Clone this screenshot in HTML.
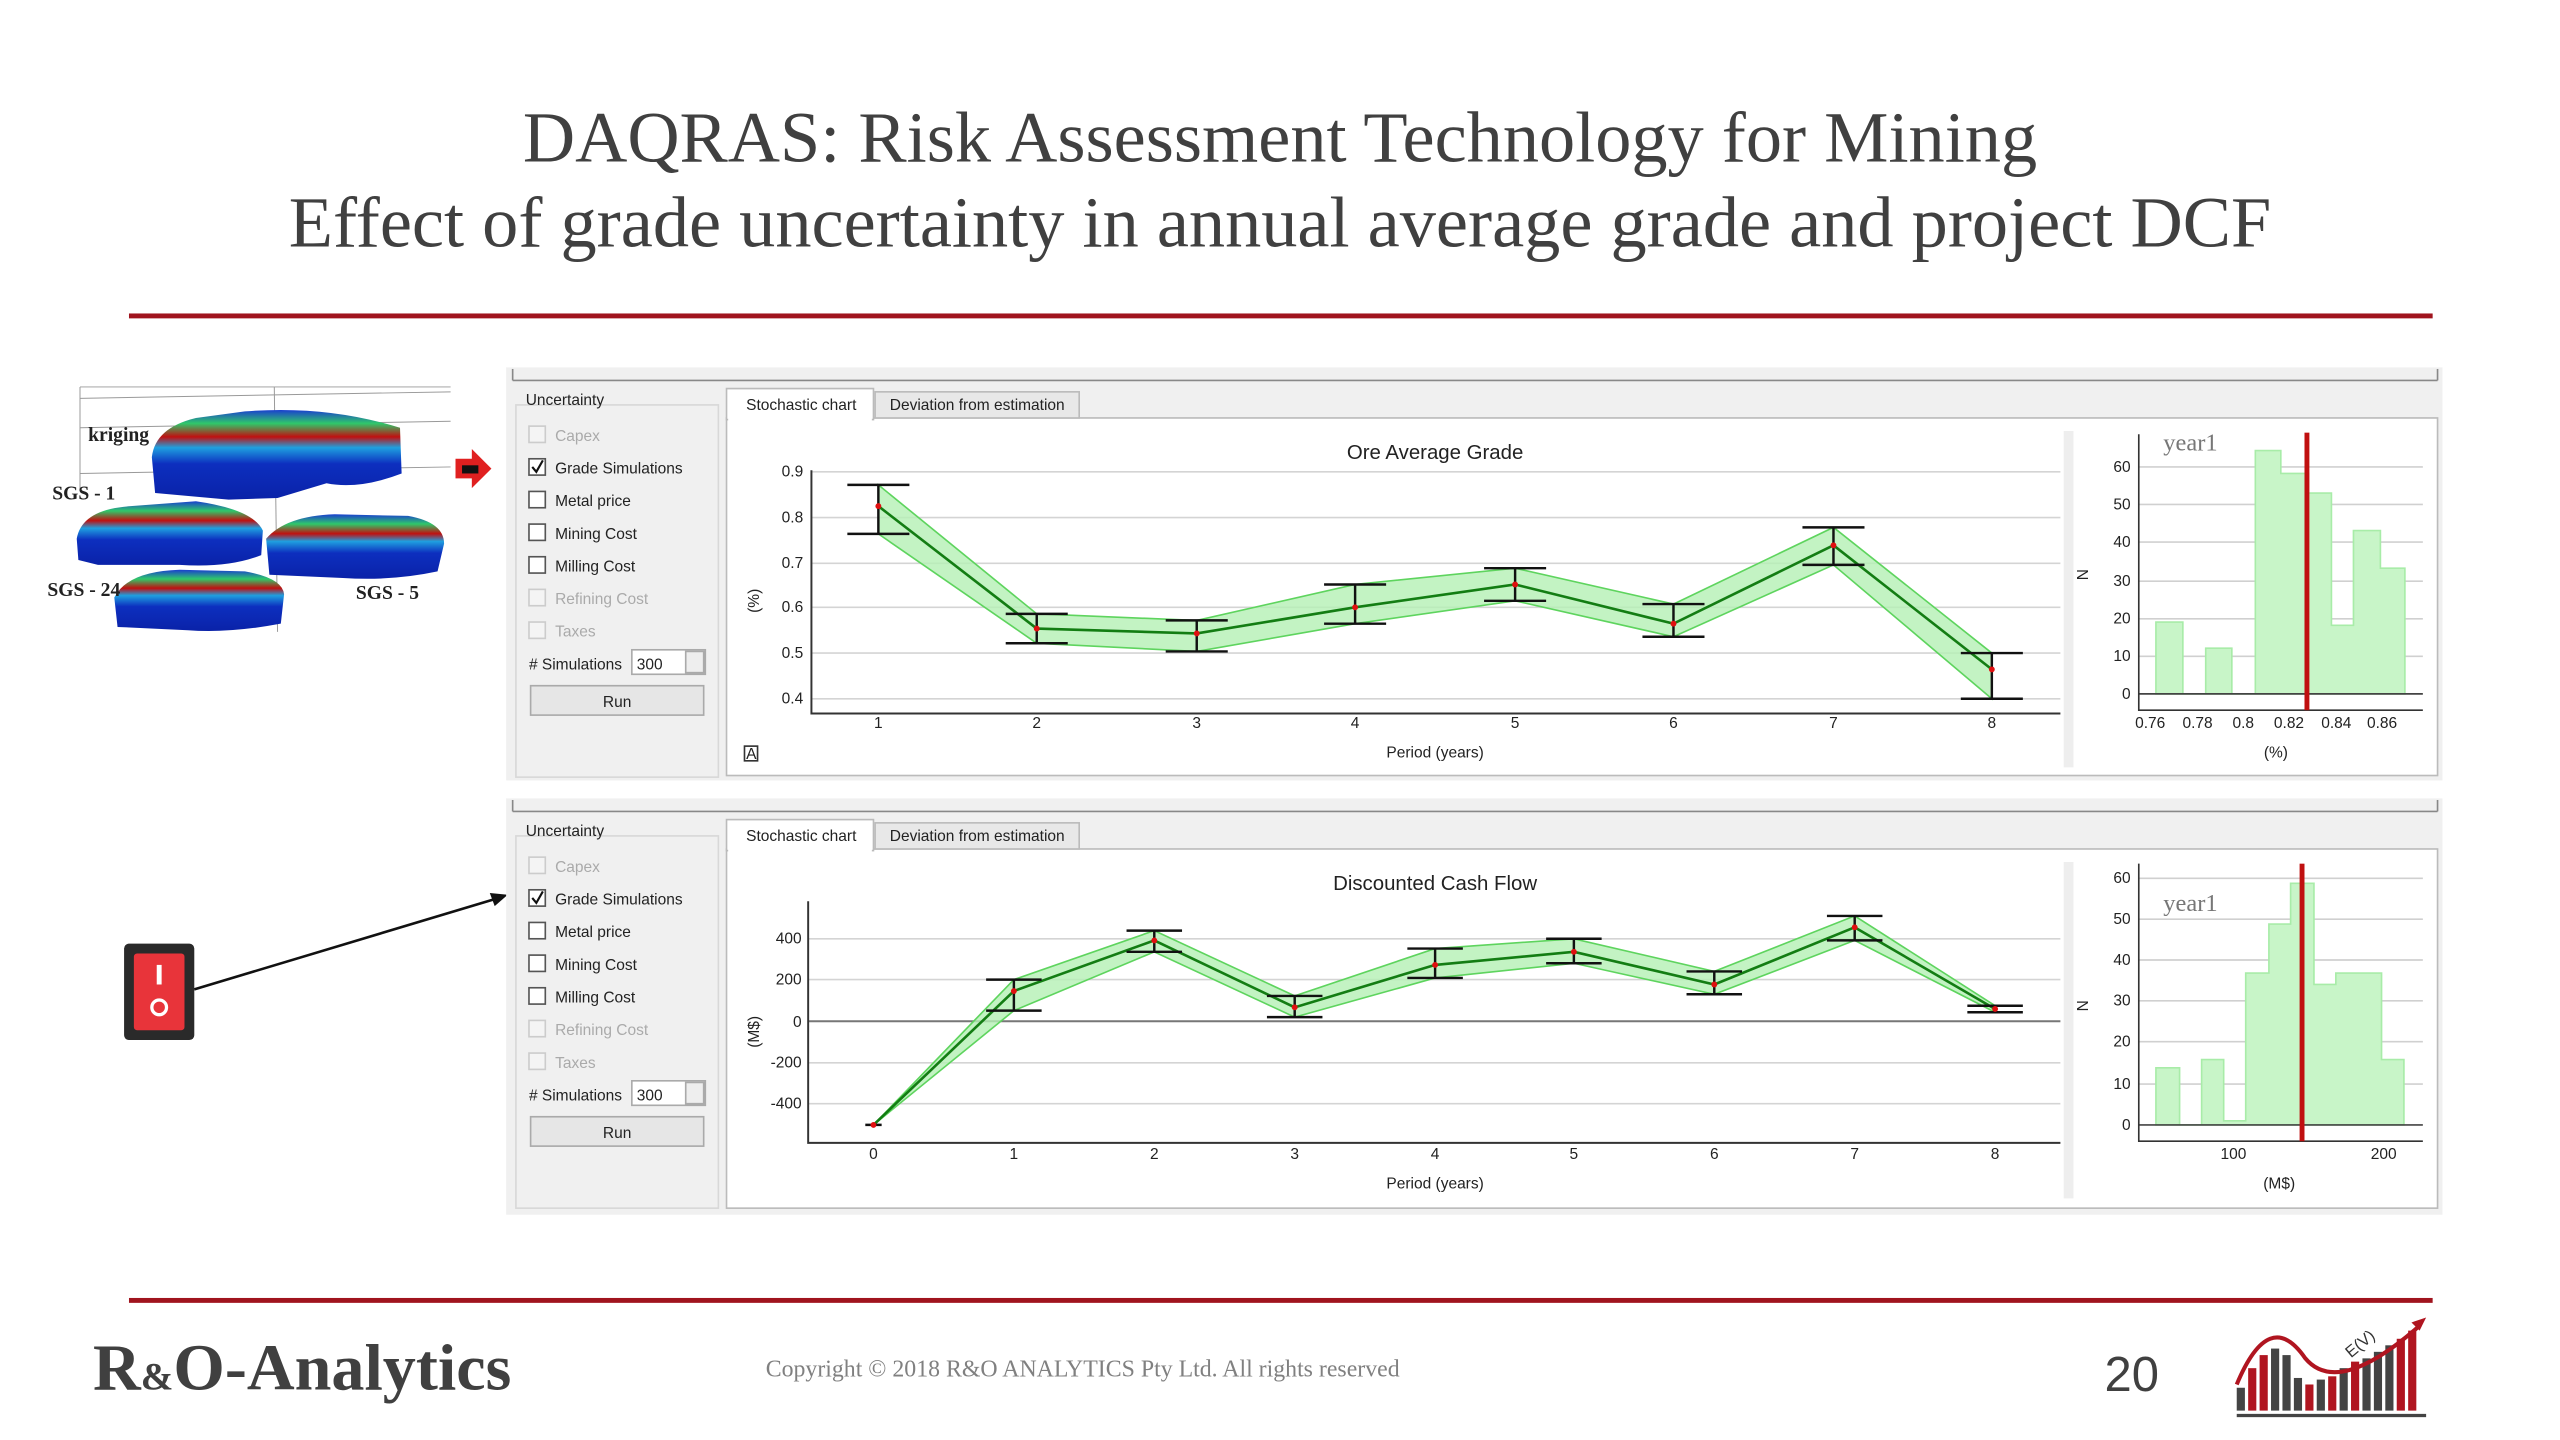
<!DOCTYPE html>
<html><head><meta charset="utf-8"><style>
html,body{margin:0;padding:0;background:#fff;width:2560px;height:1440px;overflow:hidden}
svg{display:block}
.ui{font-family:"Liberation Sans",sans-serif;font-size:9.5px;fill:#222}
.dis{fill:#aaa}
</style></head><body>
<svg width="2560" height="1440" viewBox="0 0 1568 882" preserveAspectRatio="none" xmlns="http://www.w3.org/2000/svg">
<rect width="1568" height="882" fill="#fff"/>
<!-- titles -->
<g font-family="Liberation Serif,serif" fill="#404040" text-anchor="middle" font-size="44.3">
<text x="784" y="99">DAQRAS: Risk Assessment Technology for Mining</text>
<text x="784" y="151">Effect of grade uncertainty in annual average grade and project DCF</text>
</g>
<rect x="79" y="192" width="1411" height="3" fill="#a0141e"/>
<rect x="79" y="795" width="1411" height="3" fill="#a0141e"/>
<!-- footer -->
<text x="57" y="851" font-family="Liberation Serif,serif" font-size="40.5" font-weight="bold" fill="#404040">R<tspan font-size="24">&amp;</tspan>O-Analytics</text>
<text x="469" y="843" font-family="Liberation Serif,serif" font-size="14.6" fill="#808080">Copyright © 2018 R&amp;O ANALYTICS Pty Ltd. All rights reserved</text>
<text x="1289" y="852" font-family="Liberation Sans,sans-serif" font-size="30" fill="#404040">20</text>
<g>
<rect x="1370" y="850" width="5" height="14" fill="#444"/><rect x="1377" y="838" width="5" height="26" fill="#b01520"/>
<rect x="1384" y="830" width="5" height="34" fill="#b01520"/><rect x="1391" y="826" width="5" height="38" fill="#444"/>
<rect x="1398" y="830" width="5" height="34" fill="#444"/><rect x="1405" y="844" width="5" height="20" fill="#444"/>
<rect x="1412" y="848" width="5" height="16" fill="#b01520"/><rect x="1419" y="845" width="5" height="19" fill="#444"/>
<rect x="1426" y="843" width="5" height="21" fill="#b01520"/><rect x="1433" y="838" width="5" height="26" fill="#444"/>
<rect x="1440" y="834" width="5" height="30" fill="#b01520"/><rect x="1447" y="832" width="5" height="32" fill="#444"/>
<rect x="1454" y="828" width="5" height="36" fill="#444"/><rect x="1461" y="824" width="5" height="40" fill="#444"/>
<rect x="1468" y="820" width="5" height="44" fill="#b01520"/><rect x="1475" y="815" width="5" height="49" fill="#b01520"/>
<rect x="1370" y="866" width="116" height="2" fill="#444"/>
<path d="M1370 848 Q1390 800 1412 832 Q1432 856 1482 812" fill="none" stroke="#b01520" stroke-width="2.5"/>
<path d="M1486 807 l-9 3 l5 5z" fill="#b01520"/>
<text x="1440" y="832" font-family="Liberation Sans,sans-serif" font-size="10" fill="#333" transform="rotate(-40 1440 832)">E(V)</text>
</g>
<!-- block models -->
<g stroke="#999" stroke-width="0.6" fill="none">
<line x1="49" y1="237" x2="276" y2="237"/><line x1="49" y1="244" x2="276" y2="240"/>
<line x1="49" y1="262" x2="276" y2="258"/><line x1="49" y1="290" x2="276" y2="286"/>
<line x1="49" y1="237" x2="49" y2="300"/><line x1="168" y1="237" x2="170" y2="387"/>
</g>
<defs>
<linearGradient id="bl" x1="0" y1="0" x2="0" y2="1">
<stop offset="0" stop-color="#1a3fd0"/><stop offset="0.15" stop-color="#2fc86a"/><stop offset="0.3" stop-color="#c01010"/><stop offset="0.42" stop-color="#1fa0e0"/><stop offset="0.6" stop-color="#0d2fbf"/><stop offset="1" stop-color="#0a22a8"/>
</linearGradient>
</defs>
<path d="M93 280 Q95 262 120 256 L150 252 Q200 248 245 262 L246 290 Q220 300 200 296 L170 305 L140 306 L95 302Z" fill="url(#bl)"/>
<path d="M47 330 Q50 312 80 310 L120 307 Q155 312 161 325 L160 340 Q140 348 110 346 L60 346 L48 343Z" fill="url(#bl)"/>
<path d="M163 330 Q175 316 205 315 L250 316 Q272 320 272 333 L268 350 Q240 356 210 354 L165 352Z" fill="url(#bl)"/>
<path d="M70 366 Q78 350 110 349 L150 350 Q173 354 174 364 L172 382 Q140 388 115 386 L72 384Z" fill="url(#bl)"/>
<g font-family="Liberation Serif,serif" font-weight="bold" font-size="12" fill="#222">
<text x="54" y="270">kriging</text><text x="32" y="306">SGS - 1</text><text x="29" y="365">SGS - 24</text><text x="218" y="367">SGS - 5</text>
</g>
<path d="M279 281 h10 v-6 l12 12 l-12 12 v-6 h-10z" fill="#e02020"/>
<rect x="283" y="285" width="10" height="5" fill="#111"/>
<!-- switch -->
<rect x="76" y="578" width="43" height="59" rx="3" fill="#2a2a2a"/>
<rect x="82" y="584" width="31" height="47" rx="2" fill="#e8343a"/>
<rect x="96" y="591" width="3" height="12" fill="#fff"/>
<circle cx="97.5" cy="617" r="4.5" fill="none" stroke="#fff" stroke-width="2"/>
<line x1="119" y1="606" x2="302" y2="551" stroke="#111" stroke-width="1.6"/>
<path d="M311 548 l-11 -1 l3 8z" fill="#111"/>

<!-- top panel -->
<rect x="310" y="225" width="1186" height="253" fill="#f0f0f0"/>
<line x1="314" y1="233" x2="1493" y2="233" stroke="#888" stroke-width="1"/>
<line x1="314" y1="226" x2="314" y2="233" stroke="#888"/><line x1="1493" y1="226" x2="1493" y2="233" stroke="#888"/>
<rect x="316" y="248" width="124" height="228" fill="none" stroke="#d8d8d8"/>
<text class="ui" x="322" y="248" font-size="9">Uncertainty</text>
<g class="ui">
<rect x="324" y="261" width="10" height="10" fill="#f4f4f4" stroke="#ccc"/><text class="dis" x="340" y="270">Capex</text>
<rect x="324" y="281" width="10" height="10" fill="#fff" stroke="#555"/><path d="M326 286 l2.5 3 l4 -7" stroke="#111" fill="none" stroke-width="1.3"/><text x="340" y="290">Grade Simulations</text>
<rect x="324" y="301" width="10" height="10" fill="#fff" stroke="#555"/><text x="340" y="310">Metal price</text>
<rect x="324" y="321" width="10" height="10" fill="#fff" stroke="#555"/><text x="340" y="330">Mining Cost</text>
<rect x="324" y="341" width="10" height="10" fill="#fff" stroke="#555"/><text x="340" y="350">Milling Cost</text>
<rect x="324" y="361" width="10" height="10" fill="#f4f4f4" stroke="#ccc"/><text class="dis" x="340" y="370">Refining Cost</text>
<rect x="324" y="381" width="10" height="10" fill="#f4f4f4" stroke="#ccc"/><text class="dis" x="340" y="390">Taxes</text>
<text x="324" y="410"># Simulations</text>
<rect x="387" y="398" width="45" height="15" fill="#fff" stroke="#aaa"/><text x="390" y="410">300</text>
<rect x="420" y="399" width="11" height="13" fill="#eee" stroke="#aaa"/>
<rect x="325" y="420" width="106" height="18" fill="#e6e6e6" stroke="#aaa"/><text x="378" y="433" text-anchor="middle">Run</text>
</g>
<rect x="445" y="256" width="1048" height="219" fill="#fff" stroke="#bbb"/>
<rect x="445" y="238" width="90" height="19" fill="#fff" stroke="#bbb"/><rect x="446" y="255" width="88" height="3" fill="#fff"/>
<rect x="536" y="240" width="125" height="16" fill="#e8e8e8" stroke="#bbb"/>
<text class="ui" x="457" y="251" font-size="9">Stochastic chart</text>
<text class="ui" x="545" y="251" font-size="9">Deviation from estimation</text>
<rect x="1264" y="264" width="6" height="206" fill="#eee"/>
<!-- chart 1 -->
<g stroke="#d4d4d4" stroke-width="1">
<line x1="497" y1="289" x2="1262" y2="289"/><line x1="497" y1="317" x2="1262" y2="317"/><line x1="497" y1="345" x2="1262" y2="345"/>
<line x1="497" y1="372" x2="1262" y2="372"/><line x1="497" y1="400" x2="1262" y2="400"/><line x1="497" y1="428" x2="1262" y2="428"/>
</g>
<path d="M497 288 V437 H1262" fill="none" stroke="#333" stroke-width="1.2"/>
<g class="ui" font-size="9" text-anchor="end">
<text x="492" y="292">0.9</text><text x="492" y="320">0.8</text><text x="492" y="348">0.7</text><text x="492" y="375">0.6</text><text x="492" y="403">0.5</text><text x="492" y="431">0.4</text>
</g>
<g class="ui" font-size="9" text-anchor="middle">
<text x="538" y="446">1</text><text x="635" y="446">2</text><text x="733" y="446">3</text><text x="830" y="446">4</text><text x="928" y="446">5</text><text x="1025" y="446">6</text><text x="1123" y="446">7</text><text x="1220" y="446">8</text>
<text x="879" y="464">Period (years)</text>
<text x="879" y="281" font-size="12.5">Ore Average Grade</text>
<text x="465" y="368" transform="rotate(-90 465 368)">(%)</text>
</g>
<rect x="456" y="457" width="8" height="9" fill="#fff" stroke="#333"/><text class="ui" x="457" y="465" font-size="8">A</text>
<path d="M538 297 L635 376 L733 380 L830 358 L928 348 L1025 370 L1123 323 L1220 400 L1220 428 L1123 346 L1025 390 L928 368 L830 382 L733 399 L635 394 L538 327Z" fill="#b4f0b4" fill-opacity="0.8" stroke="#5ed45e" stroke-width="1"/>
<polyline points="538,310 635,385 733,388 830,372 928,358 1025,382 1123,334 1220,410" fill="none" stroke="#137d13" stroke-width="1.6"/>
<g stroke="#111" stroke-width="1.5">
<path d="M538 297V327M519 297H557M519 327H557"/>
<path d="M635 376V394M616 376H654M616 394H654"/>
<path d="M733 380V399M714 380H752M714 399H752"/>
<path d="M830 358V382M811 358H849M811 382H849"/>
<path d="M928 348V368M909 348H947M909 368H947"/>
<path d="M1025 370V390M1006 370H1044M1006 390H1044"/>
<path d="M1123 323V346M1104 323H1142M1104 346H1142"/>
<path d="M1220 400V428M1201 400H1239M1201 428H1239"/>
</g>
<g fill="#e01010"><circle cx="538" cy="310" r="1.8"/><circle cx="635" cy="385" r="1.8"/><circle cx="733" cy="388" r="1.8"/><circle cx="830" cy="372" r="1.8"/><circle cx="928" cy="358" r="1.8"/><circle cx="1025" cy="382" r="1.8"/><circle cx="1123" cy="334" r="1.8"/><circle cx="1220" cy="410" r="1.8"/></g>
<!-- hist 1 -->
<g stroke="#d0d0d0"><line x1="1310" y1="286" x2="1484" y2="286"/><line x1="1310" y1="309" x2="1484" y2="309"/><line x1="1310" y1="332" x2="1484" y2="332"/><line x1="1310" y1="356" x2="1484" y2="356"/><line x1="1310" y1="379" x2="1484" y2="379"/><line x1="1310" y1="402" x2="1484" y2="402"/></g>
<path d="M1320.5 425 V381 H1337 V425 H1351 V397 H1367 V425 H1381.4 V276 H1397 V290 H1414 V302 H1428 V383 H1441.5 V325 H1458 V348 H1473 V425Z" fill="#c8f5c8" stroke="#a8eca8"/>
<line x1="1310" y1="425" x2="1484" y2="425" stroke="#444"/>
<path d="M1310 266 V435 H1484" fill="none" stroke="#333"/>
<rect x="1411.5" y="265" width="3" height="170" fill="#c01010"/>
<g class="ui" font-size="8.5" text-anchor="end"><text x="1305" y="289">60</text><text x="1305" y="312">50</text><text x="1305" y="335">40</text><text x="1305" y="359">30</text><text x="1305" y="382">20</text><text x="1305" y="405">10</text><text x="1305" y="428">0</text></g>
<g class="ui" font-size="8.5" text-anchor="middle"><text x="1317" y="446">0.76</text><text x="1346" y="446">0.78</text><text x="1374" y="446">0.8</text><text x="1402" y="446">0.82</text><text x="1431" y="446">0.84</text><text x="1459" y="446">0.86</text><text x="1394" y="464">(%)</text><text x="1279" y="352" transform="rotate(-90 1279 352)">N</text></g>
<text x="1325" y="276" font-family="Liberation Serif,serif" font-size="15" fill="#777">year1</text>

<!-- bottom panel -->
<rect x="310" y="489" width="1186" height="255" fill="#f0f0f0"/>
<line x1="314" y1="497" x2="1493" y2="497" stroke="#888"/>
<line x1="314" y1="490" x2="314" y2="497" stroke="#888"/><line x1="1493" y1="490" x2="1493" y2="497" stroke="#888"/>
<rect x="316" y="512" width="124" height="228" fill="none" stroke="#d8d8d8"/>
<text class="ui" x="322" y="512" font-size="9">Uncertainty</text>
<g class="ui" transform="translate(0 264)">
<rect x="324" y="261" width="10" height="10" fill="#f4f4f4" stroke="#ccc"/><text class="dis" x="340" y="270">Capex</text>
<rect x="324" y="281" width="10" height="10" fill="#fff" stroke="#555"/><path d="M326 286 l2.5 3 l4 -7" stroke="#111" fill="none" stroke-width="1.3"/><text x="340" y="290">Grade Simulations</text>
<rect x="324" y="301" width="10" height="10" fill="#fff" stroke="#555"/><text x="340" y="310">Metal price</text>
<rect x="324" y="321" width="10" height="10" fill="#fff" stroke="#555"/><text x="340" y="330">Mining Cost</text>
<rect x="324" y="341" width="10" height="10" fill="#fff" stroke="#555"/><text x="340" y="350">Milling Cost</text>
<rect x="324" y="361" width="10" height="10" fill="#f4f4f4" stroke="#ccc"/><text class="dis" x="340" y="370">Refining Cost</text>
<rect x="324" y="381" width="10" height="10" fill="#f4f4f4" stroke="#ccc"/><text class="dis" x="340" y="390">Taxes</text>
<text x="324" y="410"># Simulations</text>
<rect x="387" y="398" width="45" height="15" fill="#fff" stroke="#aaa"/><text x="390" y="410">300</text>
<rect x="420" y="399" width="11" height="13" fill="#eee" stroke="#aaa"/>
<rect x="325" y="420" width="106" height="18" fill="#e6e6e6" stroke="#aaa"/><text x="378" y="433" text-anchor="middle">Run</text>
</g>
<rect x="445" y="520" width="1048" height="220" fill="#fff" stroke="#bbb"/>
<rect x="445" y="502" width="90" height="19" fill="#fff" stroke="#bbb"/><rect x="446" y="519" width="88" height="3" fill="#fff"/>
<rect x="536" y="504" width="125" height="16" fill="#e8e8e8" stroke="#bbb"/>
<text class="ui" x="457" y="515" font-size="9">Stochastic chart</text>
<text class="ui" x="545" y="515" font-size="9">Deviation from estimation</text>
<rect x="1264" y="528" width="6" height="206" fill="#eee"/>
<!-- chart 2 -->
<g stroke="#d4d4d4"><line x1="495" y1="575" x2="1262" y2="575"/><line x1="495" y1="600" x2="1262" y2="600"/><line x1="495" y1="651" x2="1262" y2="651"/><line x1="495" y1="676" x2="1262" y2="676"/></g>
<line x1="495" y1="625.5" x2="1262" y2="625.5" stroke="#777" stroke-width="1.2"/>
<path d="M495 552 V700 H1262" fill="none" stroke="#333" stroke-width="1.2"/>
<g class="ui" font-size="9" text-anchor="end"><text x="491" y="578">400</text><text x="491" y="603">200</text><text x="491" y="629">0</text><text x="491" y="654">-200</text><text x="491" y="679">-400</text></g>
<g class="ui" font-size="9" text-anchor="middle">
<text x="535" y="710">0</text><text x="621" y="710">1</text><text x="707" y="710">2</text><text x="793" y="710">3</text><text x="879" y="710">4</text><text x="964" y="710">5</text><text x="1050" y="710">6</text><text x="1136" y="710">7</text><text x="1222" y="710">8</text>
<text x="879" y="728">Period (years)</text>
<text x="879" y="545" font-size="12.5">Discounted Cash Flow</text>
<text x="465" y="632" transform="rotate(-90 465 632)">(M$)</text>
</g>
<path d="M535 689 L621 600 L707 570 L793 610 L879 581 L964 575 L1050 595 L1136 561 L1222 616 L1222 620 L1136 576 L1050 609 L964 590 L879 599 L793 623 L707 583 L621 619 L535 689Z" fill="#b4f0b4" fill-opacity="0.8" stroke="#5ed45e"/>
<polyline points="535,689 621,607 707,576 793,617 879,591 964,583 1050,603 1136,568 1222,618" fill="none" stroke="#137d13" stroke-width="1.6"/>
<g stroke="#111" stroke-width="1.5">
<path d="M621 600V619M604 600H638M604 619H638"/>
<path d="M707 570V583M690 570H724M690 583H724"/>
<path d="M793 610V623M776 610H810M776 623H810"/>
<path d="M879 581V599M862 581H896M862 599H896"/>
<path d="M964 575V590M947 575H981M947 590H981"/>
<path d="M1050 595V609M1033 595H1067M1033 609H1067"/>
<path d="M1136 561V576M1119 561H1153M1119 576H1153"/>
<path d="M1222 616V620M1205 616H1239M1205 620H1239"/>
<path d="M530 689H540"/>
</g>
<g fill="#e01010"><circle cx="535" cy="689" r="1.8"/><circle cx="621" cy="607" r="1.8"/><circle cx="707" cy="576" r="1.8"/><circle cx="793" cy="617" r="1.8"/><circle cx="879" cy="591" r="1.8"/><circle cx="964" cy="583" r="1.8"/><circle cx="1050" cy="603" r="1.8"/><circle cx="1136" cy="568" r="1.8"/><circle cx="1222" cy="618" r="1.8"/></g>
<!-- hist 2 -->
<g stroke="#d0d0d0"><line x1="1310" y1="538" x2="1484" y2="538"/><line x1="1310" y1="563" x2="1484" y2="563"/><line x1="1310" y1="588" x2="1484" y2="588"/><line x1="1310" y1="613" x2="1484" y2="613"/><line x1="1310" y1="638" x2="1484" y2="638"/><line x1="1310" y1="664" x2="1484" y2="664"/></g>
<path d="M1320.5 689 V654 H1335 V689 H1348.5 V649 H1362 V686.5 H1375.5 V596 H1389.7 V566 H1403 V541 H1417.3 V603 H1430.7 V596 H1458.7 V649 H1472.4 V689Z" fill="#c8f5c8" stroke="#a8eca8"/>
<line x1="1310" y1="689" x2="1484" y2="689" stroke="#444"/>
<path d="M1310 529 V699 H1484" fill="none" stroke="#333"/>
<rect x="1408.5" y="529" width="3" height="170" fill="#c01010"/>
<g class="ui" font-size="8.5" text-anchor="end"><text x="1305" y="541">60</text><text x="1305" y="566">50</text><text x="1305" y="591">40</text><text x="1305" y="616">30</text><text x="1305" y="641">20</text><text x="1305" y="667">10</text><text x="1305" y="692">0</text></g>
<g class="ui" font-size="8.5" text-anchor="middle"><text x="1368" y="710">100</text><text x="1460" y="710">200</text><text x="1396" y="728">(M$)</text><text x="1279" y="616" transform="rotate(-90 1279 616)">N</text></g>
<text x="1325" y="558" font-family="Liberation Serif,serif" font-size="15" fill="#777">year1</text>
</svg>
</body></html>
